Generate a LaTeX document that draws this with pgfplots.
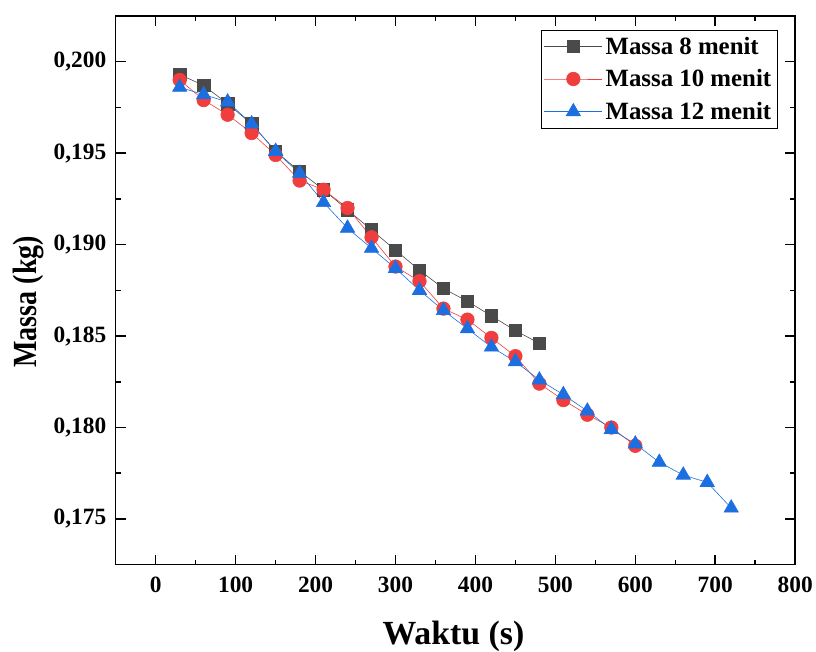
\documentclass[border=0pt]{standalone}
\usepackage{fontspec}
\setmainfont{Liberation Serif}
\usepackage{graphicx}
\usepackage{pgfplots}
\pgfplotsset{compat=1.18}
\definecolor{cblack}{HTML}{4A4A4A}
\definecolor{cred}{HTML}{F03E3E}
\definecolor{cblue}{HTML}{1C6FE0}
\begin{document}
\begin{tikzpicture}
\begin{axis}[
  name=ax,
  scale only axis, width=681bp, height=550bp,
  xmin=-50, xmax=800, ymin=0.1725, ymax=0.2025,
  xtick={0,100,200,300,400,500,600,700,800}, minor x tick num=1,
  ytick={0.175,0.180,0.185,0.190,0.195,0.200}, minor y tick num=1,
  tick align=inside, major tick length=10bp, minor tick length=5bp,
  axis line style={line width=1.5bp},
  every tick/.style={line width=1.5bp, black},
  ticklabel style={font=\fontsize{23.5}{23.5}\selectfont\bfseries},
  /pgf/number format/assume math mode=true,
  scaled y ticks=false,
  yticklabel style={xshift=-6bp, /pgf/number format/.cd, fixed, fixed zerofill, precision=3, use comma},
  xticklabel style={yshift=-9bp},
  xlabel={Waktu (s)}, ylabel={\scalebox{0.83}[1]{Massa (kg)}},
  label style={font=\fontsize{34}{34}\selectfont\bfseries, inner sep=0pt},
  xlabel style={at={(axis description cs:0.497,-0.131)}, anchor=center},
  ylabel style={at={(axis description cs:-0.128,0.479)}, anchor=center},
  legend style={at={(0.974,0.975)}, anchor=north east, draw=black, line width=0.6bp,
    font=\fontsize{25}{25}\selectfont\bfseries, row sep=10bp, inner ysep=5bp, inner xsep=3bp,
    nodes={inner xsep=3bp}},
  legend cell align=left,
  legend image code/.code={\draw[mark repeat=2,mark phase=2,#1] plot coordinates {(0bp,0bp) (29bp,0bp) (58bp,0bp)};},
]
\addplot[color=cblack, line width=0.6bp, mark=square*, mark size=6.2bp, mark options={solid, fill=cblack}] coordinates {
(30,0.1993) (60,0.1987) (90,0.1977) (120,0.1966) (150,0.1951) (180,0.1940)
(210,0.1930) (240,0.1919) (270,0.1908) (300,0.1897) (330,0.1886) (360,0.1876)
(390,0.1869) (420,0.1861) (450,0.1853) (480,0.1846)};
\addlegendentry{Massa 8 menit}
\addplot[color=cred, line width=0.6bp, mark=*, mark size=6.8bp, mark options={solid, fill=cred}] coordinates {
(30,0.1990) (60,0.1979) (90,0.1971) (120,0.1961) (150,0.1949) (180,0.1935)
(210,0.1930) (240,0.1920) (270,0.1904) (300,0.1888) (330,0.1880) (360,0.1865)
(390,0.1859) (420,0.1849) (450,0.1839) (480,0.1824) (510,0.1815) (540,0.1807)
(570,0.1800) (600,0.1790)};
\addlegendentry{Massa 10 menit}
\addplot[color=cblue, line width=0.6bp, mark=triangle*, mark size=8.3bp, mark options={solid, fill=cblue}] coordinates {
(30,0.1986) (60,0.1982) (90,0.1978) (120,0.1966) (150,0.1951) (180,0.1939)
(210,0.1923) (240,0.1909) (270,0.1898) (300,0.1887) (330,0.1875) (360,0.1864)
(390,0.1854) (420,0.1844) (450,0.1836) (480,0.1826) (510,0.1818) (540,0.1809)
(570,0.1799) (600,0.1791) (630,0.1781) (660,0.1774) (690,0.1770) (720,0.1756)};
\addlegendentry{Massa 12 menit}
\end{axis}
\path ([shift={(-116bp,-85bp)}]ax.south west) rectangle ([shift={(19bp,16bp)}]ax.north east);
\end{tikzpicture}
\end{document}
